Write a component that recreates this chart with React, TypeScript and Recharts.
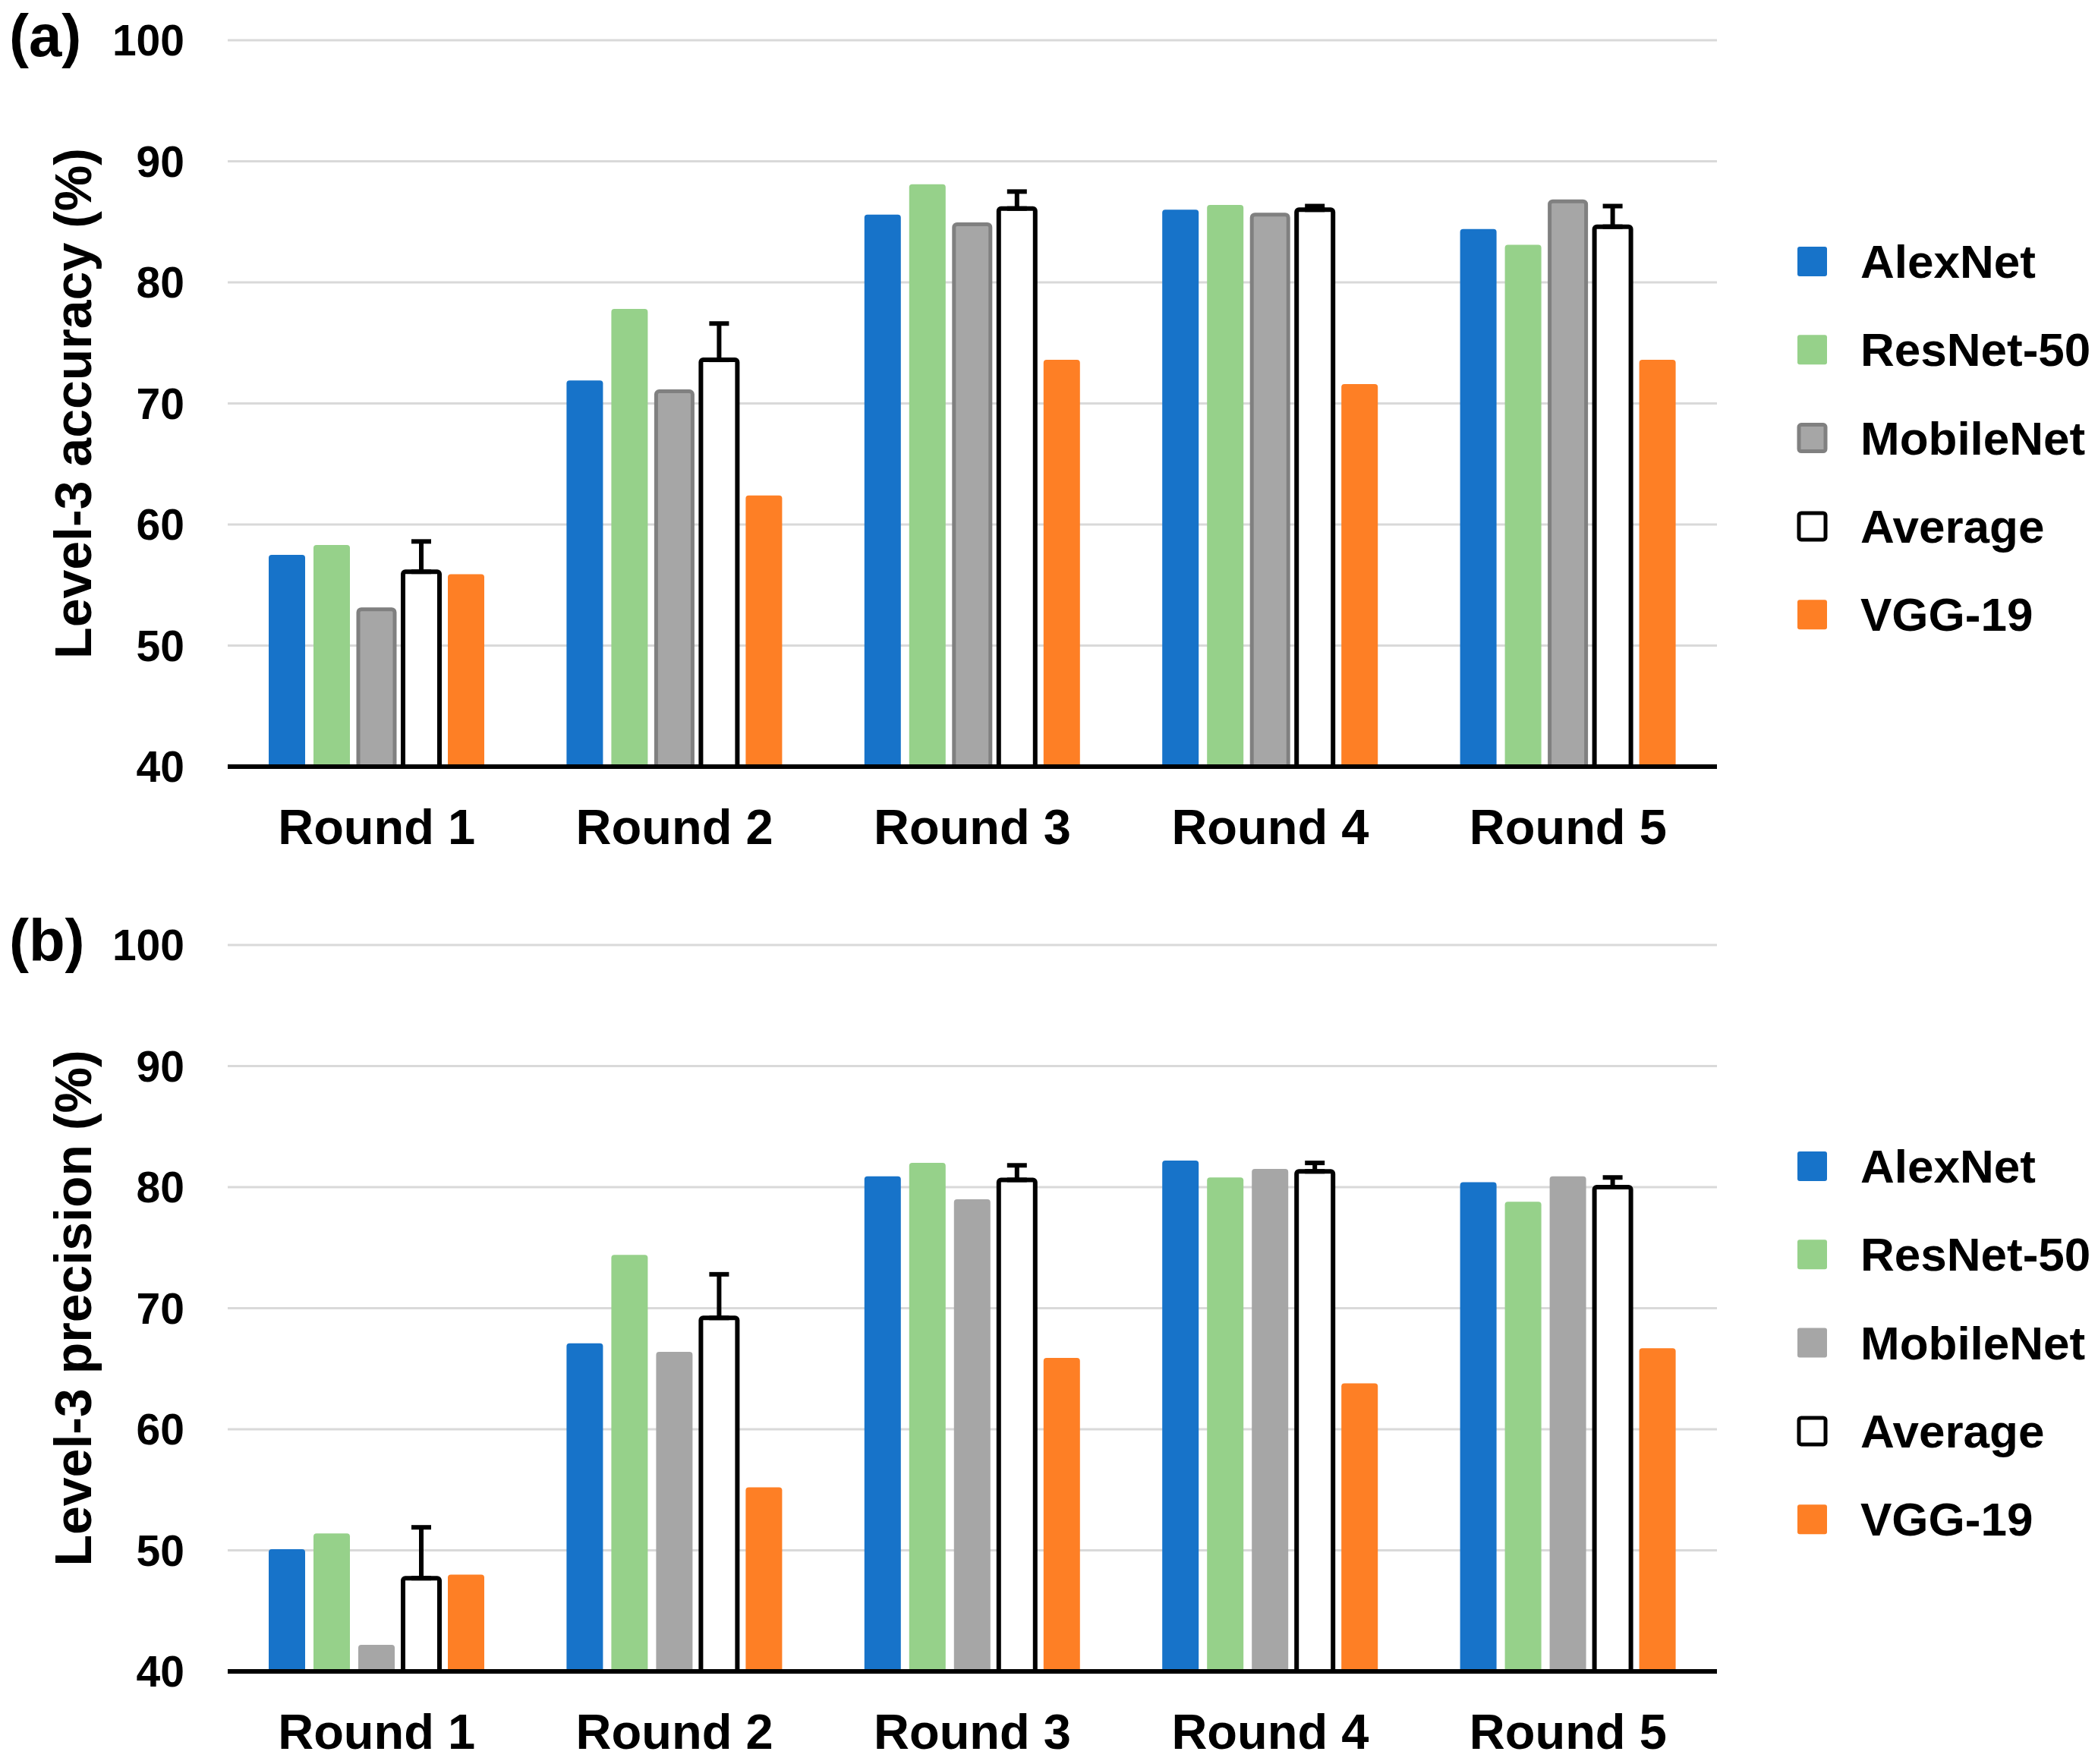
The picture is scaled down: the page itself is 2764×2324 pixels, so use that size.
import React from "react"
import { Bar, BarChart, CartesianGrid, ErrorBar, XAxis, YAxis } from "recharts"

const rounds = ["Round 1", "Round 2", "Round 3", "Round 4", "Round 5"]
const yTicks = [40, 50, 60, 70, 80, 90, 100]
const seriesNames = ["AlexNet", "ResNet-50", "MobileNet", "Average", "VGG-19"]

// (a) accuracy
const accAlexNet = [57.5, 71.9, 85.6, 86.0, 84.4]
const accResNet = [58.3, 77.8, 88.1, 86.4, 83.1]
const accMobileNet = [53.0, 71.0, 84.8, 85.6, 86.7]
const accAverage = [56.1, 73.6, 86.1, 86.0, 84.6]
const accAverageErr = [2.5, 3.0, 1.4, 0.3, 1.7]
const accVGG = [55.9, 62.4, 73.6, 71.6, 73.6]

// (b) precision
const precAlexNet = [50.1, 67.1, 80.9, 82.2, 80.4]
const precResNet = [51.4, 74.4, 82.0, 80.8, 78.8]
const precMobileNet = [42.2, 66.4, 79.0, 81.5, 80.9]
const precAverage = [47.7, 69.2, 80.6, 81.3, 80.0]
const precAverageErr = [4.2, 3.6, 1.2, 0.7, 0.8]
const precVGG = [48.0, 55.2, 65.9, 63.8, 66.7]

const BLUE = "#1773C9"
const GREEN = "#96D18A"
const GRAY = "#A6A6A6"
const GRAY_EDGE = "#808080"
const ORANGE = "#FE7F25"
const FONT = "'Liberation Sans', Arial, sans-serif"

const W = 2764
const H = 1130

function build(a: number[], r: number[], m: number[], avg: number[], err: number[], v: number[]) {
  return rounds.map((name, i) => ({
    name,
    alex: a[i],
    res: r[i],
    mob: m[i],
    avg: avg[i],
    avgErr: [0, err[i]],
    vgg: v[i],
  }))
}

const accData = build(accAlexNet, accResNet, accMobileNet, accAverage, accAverageErr, accVGG)
const precData = build(precAlexNet, precResNet, precMobileNet, precAverage, precAverageErr, precVGG)

function Panel({ data, title, mobEdge }: { data: any[]; title: string; mobEdge: boolean }) {
  return (
    <BarChart
      width={W}
      height={H}
      data={data}
      margin={{ top: 53, right: 502, left: 170, bottom: 20 }}
      barSize={48}
      barGap={11}
    >
      <CartesianGrid vertical={false} stroke="#D9D9D9" strokeWidth={3} />
      <XAxis
        dataKey="name"
        height={100}
        tickLine={false}
        axisLine={{ stroke: "#000", strokeWidth: 6 }}
        tickMargin={50}
        tick={{ fill: "#000", fontSize: 65, fontWeight: 700, fontFamily: FONT }}
      />
      <YAxis
        width={130}
        domain={[40, 100]}
        ticks={yTicks}
        axisLine={false}
        tickLine={false}
        tickMargin={51}
        tick={{ fill: "#000", fontSize: 57, fontWeight: 700, fontFamily: FONT }}
        label={{
          content: (p: any) => {
            const cy = p.viewBox.y + p.viewBox.height / 2
            return (
              <text
                x={120}
                y={cy}
                transform={`rotate(-90 120 ${cy})`}
                textAnchor="middle"
                fill="#000"
                fontSize={68}
                fontWeight={700}
                fontFamily={FONT}
              >
                {title}
              </text>
            )
          },
        }}
      />
      <Bar dataKey="alex" fill={BLUE} radius={[4, 4, 0, 0]} isAnimationActive={false} />
      <Bar dataKey="res" fill={GREEN} radius={[4, 4, 0, 0]} isAnimationActive={false} />
      <Bar
        dataKey="mob"
        fill={GRAY}
        stroke={mobEdge ? GRAY_EDGE : "none"}
        strokeWidth={mobEdge ? 5 : 0}
        radius={[4, 4, 0, 0]}
        isAnimationActive={false}
      />
      <Bar dataKey="avg" fill="#fff" stroke="#000" strokeWidth={6} radius={[3, 3, 0, 0]} isAnimationActive={false}>
        <ErrorBar dataKey="avgErr" direction="y" width={13} stroke="#000" strokeWidth={6} />
      </Bar>
      <Bar dataKey="vgg" fill={ORANGE} radius={[4, 4, 0, 0]} isAnimationActive={false} />
    </BarChart>
  )
}

function Legend({ top, mobEdge }: { top: number; mobEdge: boolean }) {
  const swatch = [
    { fill: BLUE, stroke: "none" },
    { fill: GREEN, stroke: "none" },
    { fill: GRAY, stroke: mobEdge ? GRAY_EDGE : "none" },
    { fill: "#fff", stroke: "#000" },
    { fill: ORANGE, stroke: "none" },
  ]
  return (
    <g>
      {seriesNames.map((n, i) => {
        const cy = top + i * 116.3
        const s = swatch[i]
        return (
          <g key={n}>
            <rect
              x={s.stroke === "none" ? 2368 : 2370}
              y={s.stroke === "none" ? cy - 19 : cy - 17}
              width={s.stroke === "none" ? 39 : 35}
              height={s.stroke === "none" ? 39 : 35}
              rx={3}
              fill={s.fill}
              stroke={s.stroke}
              strokeWidth={s.stroke === "none" ? 0 : 5}
            />
            <text x={2451} y={cy + 22} fill="#000" fontSize={62} fontWeight={700} fontFamily={FONT}>
              {n}
            </text>
          </g>
        )
      })}
    </g>
  )
}

export default function App() {
  return (
    <div style={{ position: "absolute", left: 0, top: 0, width: W, height: 2324, background: "#fff", overflow: "hidden" }}>
      <div style={{ position: "absolute", left: 0, top: 0 }}>
        <Panel data={accData} title="Level-3 accuracy (%)" mobEdge={true} />
      </div>
      <div style={{ position: "absolute", left: 0, top: 1192 }}>
        <Panel data={precData} title="Level-3 precision (%)" mobEdge={false} />
      </div>
      <svg width={W} height={2324} style={{ position: "absolute", left: 0, top: 0, pointerEvents: "none" }}>
        <text x={12} y={74} fill="#000" fontSize={78} fontWeight={700} fontFamily={FONT}>
          (a)
        </text>
        <text x={12} y={1266} fill="#000" fontSize={78} fontWeight={700} fontFamily={FONT}>
          (b)
        </text>
        <Legend top={344} mobEdge={true} />
        <Legend top={1536} mobEdge={false} />
      </svg>
    </div>
  )
}
